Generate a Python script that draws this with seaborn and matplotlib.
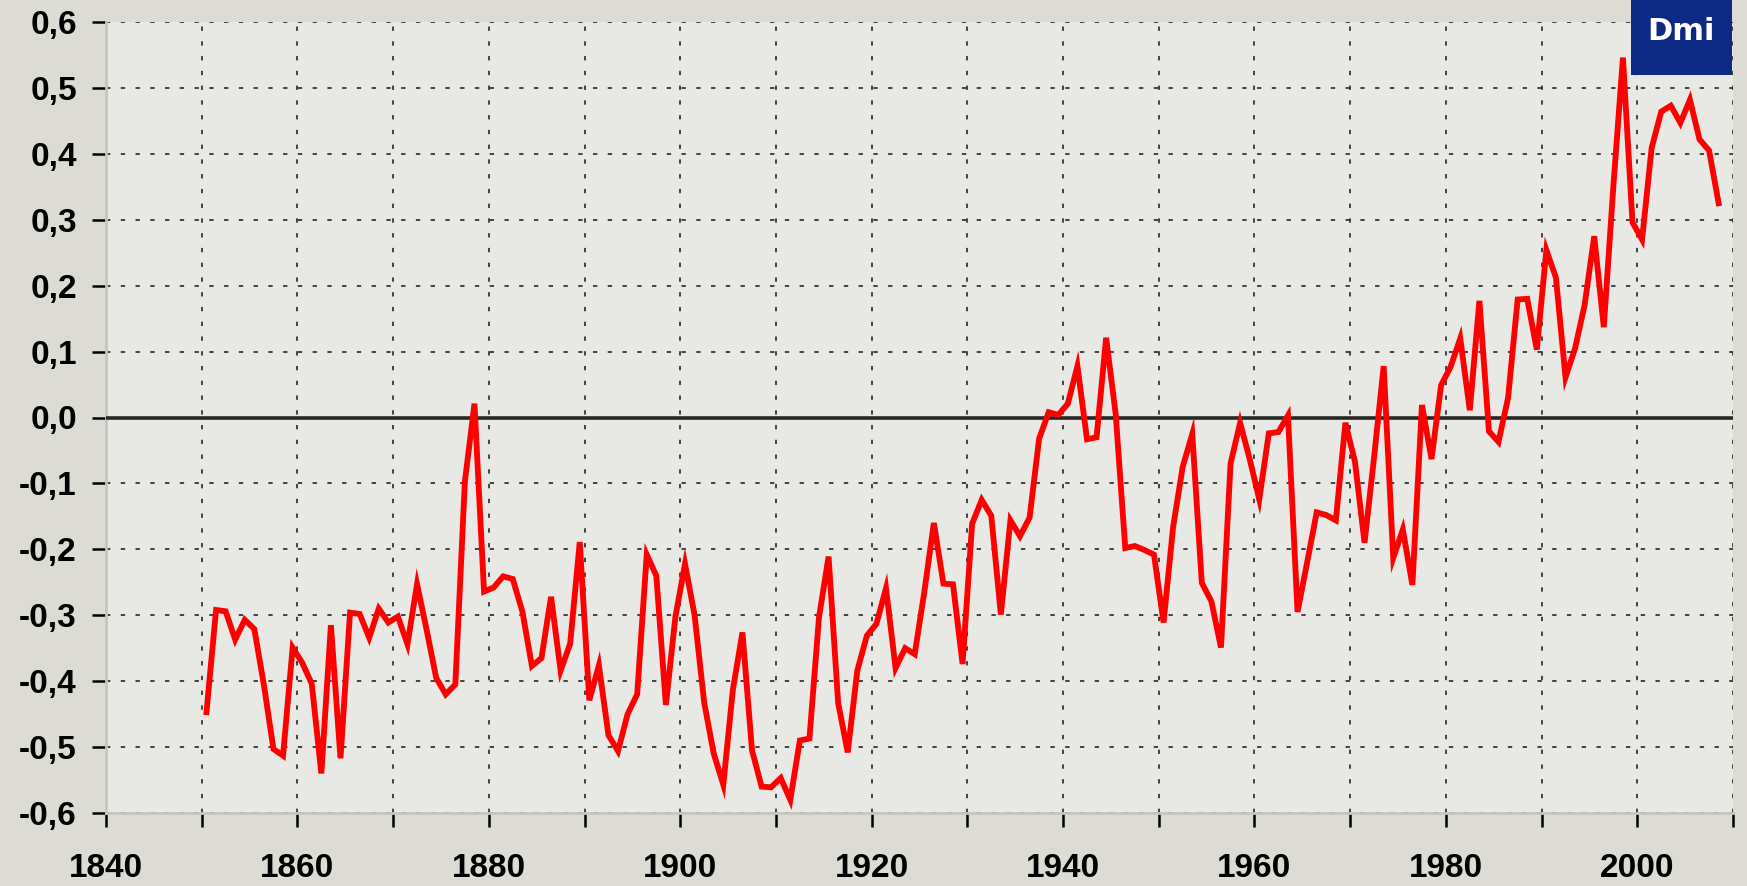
import numpy as np
import pandas as pd
import matplotlib
matplotlib.use("Agg")
import matplotlib.pyplot as plt
from matplotlib.patches import Rectangle
from matplotlib.ticker import MultipleLocator, FixedLocator, FuncFormatter
import seaborn as sns

# ---- data (annual global temperature anomaly) ----
years = list(range(1850, 2009))
anomaly = [
    -0.447, -0.292, -0.294, -0.337, -0.307, -0.321, -0.406, -0.503, -0.513, -0.349,
    -0.372, -0.404, -0.540, -0.315, -0.517, -0.296, -0.298, -0.334, -0.290, -0.311,
    -0.302, -0.344, -0.253, -0.322, -0.395, -0.420, -0.405, -0.097, 0.021, -0.264,
    -0.258, -0.241, -0.245, -0.294, -0.377, -0.365, -0.272, -0.384, -0.343, -0.189,
    -0.429, -0.376, -0.482, -0.506, -0.450, -0.420, -0.208, -0.240, -0.436, -0.302,
    -0.222, -0.300, -0.432, -0.510, -0.557, -0.413, -0.326, -0.505, -0.560, -0.561,
    -0.547, -0.580, -0.490, -0.487, -0.303, -0.211, -0.433, -0.508, -0.384, -0.331,
    -0.313, -0.259, -0.380, -0.350, -0.359, -0.265, -0.160, -0.252, -0.253, -0.374,
    -0.161, -0.125, -0.149, -0.299, -0.156, -0.180, -0.152, -0.032, 0.008, 0.004,
    0.021, 0.078, -0.033, -0.030, 0.121, 0.005, -0.198, -0.195, -0.201, -0.208,
    -0.311, -0.166, -0.075, -0.025, -0.251, -0.279, -0.349, -0.070, -0.008, -0.063,
    -0.124, -0.024, -0.022, 0.003, -0.295, -0.220, -0.144, -0.148, -0.156, -0.008,
    -0.067, -0.190, -0.060, 0.078, -0.213, -0.170, -0.254, 0.019, -0.063, 0.049,
    0.077, 0.120, 0.011, 0.177, -0.021, -0.037, 0.030, 0.179, 0.180, 0.103,
    0.254, 0.212, 0.061, 0.105, 0.171, 0.275, 0.137, 0.351, 0.546, 0.296,
    0.270, 0.409, 0.464, 0.473, 0.447, 0.482, 0.422, 0.405, 0.325,
]
x_labels = [1840, 1860, 1880, 1900, 1920, 1940, 1960, 1980, 2000]
y_ticks = [-0.6, -0.5, -0.4, -0.3, -0.2, -0.1, 0.0, 0.1, 0.2, 0.3, 0.4, 0.5, 0.6]

df = pd.DataFrame({"year": np.array(years) + 0.5, "anomaly": anomaly})

# ---- styling ----
fig_bg = "#dcdcd4"
ax_bg = "#e8e9e4"
plt.rcParams["font.family"] = ["Liberation Sans", "DejaVu Sans"]

fig = plt.figure(figsize=(17.47, 8.86), dpi=100, facecolor=fig_bg)
ax = fig.add_axes([106 / 1747, 1 - 813 / 886, (1733 - 106) / 1747, (813 - 22) / 886])
ax.set_facecolor(ax_bg)

sns.lineplot(data=df, x="year", y="anomaly", ax=ax, color="#ff0000",
             linewidth=4.2, zorder=5, solid_joinstyle="miter")

ax.set_xlim(1840, 2010)
ax.set_ylim(-0.6, 0.6)
ax.set_xlabel("")
ax.set_ylabel("")

ax.xaxis.set_major_locator(FixedLocator(x_labels))
ax.xaxis.set_minor_locator(MultipleLocator(10))
ax.yaxis.set_major_locator(FixedLocator(y_ticks))
ax.yaxis.set_major_formatter(FuncFormatter(lambda v, p: f"{v:.1f}".replace(".", ",").replace("-0,0", "0,0")))
ax.xaxis.set_major_formatter(FuncFormatter(lambda v, p: f"{int(round(v))}"))

grid_kw = dict(color="#2e2e2e", linewidth=1.25, linestyle=(0, (2.5, 6)))
ax.grid(axis="x", which="both", **grid_kw)
ax.grid(axis="y", which="major", **grid_kw)
ax.set_axisbelow(True)

ax.axhline(0.0, color="#262626", linewidth=2.6, zorder=3)

ax.tick_params(axis="y", which="major", direction="out", length=10, width=1.8,
               color="black", pad=11, labelsize=24, labelcolor="black")
ax.tick_params(axis="x", which="both", direction="out", length=10, width=1.8,
               color="black", pad=19, labelsize=24, labelcolor="black")
for lab in ax.get_xticklabels() + ax.get_yticklabels():
    lab.set_fontweight("bold")

for side in ["top", "right"]:
    ax.spines[side].set_visible(False)
for side in ["left", "bottom"]:
    ax.spines[side].set_color("#c6c6be")
    ax.spines[side].set_linewidth(2.0)

# DMI logo box
fig.add_artist(Rectangle((1631 / 1747, 1 - 75 / 886), 101 / 1747, 75 / 886,
                         transform=fig.transFigure, facecolor="#0d2983",
                         edgecolor="none", zorder=10))
fig.text(1681 / 1747, 1 - 31 / 886, "Dmi", color="white", fontsize=22,
         fontweight="bold", ha="center", va="center", zorder=11,
         family=["DejaVu Sans"])

fig.savefig("out.png", dpi=100, facecolor=fig_bg)
